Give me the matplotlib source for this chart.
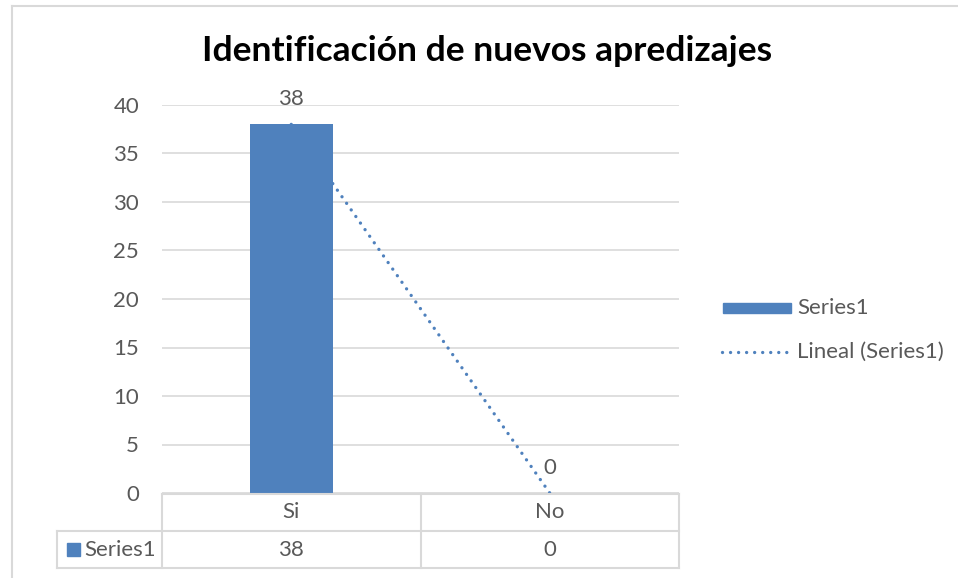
import matplotlib
matplotlib.use("Agg")
import matplotlib.pyplot as plt
import matplotlib.transforms as mtrans
import numpy as np
from matplotlib.patches import Rectangle
from matplotlib.lines import Line2D

categories = ["Si", "No"]
values = [38, 0]
series_name = "Series1"
trend_name = "Lineal (Series1)"
title = "Identificación de nuevos apredizajes"
yticks = [0, 5, 10, 15, 20, 25, 30, 35, 40]

plt.rcParams['font.family'] = ['Lato', 'DejaVu Sans']
W, H = 958, 578
fig = plt.figure(figsize=(W / 100, H / 100), dpi=100)
fig.patch.set_facecolor('white')

def fx(px):
    return px / W

def fy(py):
    return 1 - py / H

BLUE = '#4f81bd'
GRID = '#d9d9d9'
TXT = '#595959'
FS = 16
DOT = (0, (0.01, 2.4))

L, R, T, B = 162, 679, 105, 493
ax = fig.add_axes([fx(L), fy(B), fx(R) - fx(L), fy(T) - fy(B)])
x = np.arange(len(categories))
ax.set_xlim(-0.5, len(categories) - 0.5)
ax.set_ylim(0, 40)
ax.set_yticks(yticks)
ax.set_xticks([])
for s in ax.spines.values():
    s.set_visible(False)
ax.yaxis.grid(True, color=GRID, lw=1.2)
ax.set_axisbelow(True)
ax.tick_params(axis='y', length=0, pad=16.5, labelsize=FS, labelcolor=TXT)

# trendline (linear fit)
coef = np.polyfit(x, values, 1)
tx = np.array([x[0], x[-1]])
ax.plot(tx, np.polyval(coef, tx), linestyle=DOT, color=BLUE, lw=2.4,
        zorder=1, dash_capstyle='round')
ax.bar(x, values, width=0.32, color=BLUE, zorder=2)
for xi, v in zip(x, values):
    ax.annotate(str(v), (xi, v), xytext=(0, 18), textcoords='offset points',
                ha='center', va='center', fontsize=FS, color=TXT)

fig.text(0.5 * (fx(202) + fx(772)), fy(51), title, ha='center', va='center',
         fontsize=25.5, fontweight='bold', color='#000000')

# chart border
fig.add_artist(Line2D([fx(12), fx(12)], [fy(6), fy(578)], color=GRID, lw=1.5))
fig.add_artist(Line2D([fx(12), fx(958)], [fy(6), fy(6)], color=GRID, lw=1.5))

# data table
TL = 57
cols = [L, 421, R]
y0, y1, y2 = 494, 531, 568
def hline(xa, xb, yy):
    fig.add_artist(Line2D([fx(xa), fx(xb)], [fy(yy), fy(yy)], color=GRID, lw=1.5))
def vline(xx, ya, yb):
    fig.add_artist(Line2D([fx(xx), fx(xx)], [fy(ya), fy(yb)], color=GRID, lw=1.5))
hline(L, R, y0)
hline(TL, R, y1)
hline(TL, R, y2)
for c in cols:
    vline(c, y0, y2)
vline(TL, y1, y2)
blend = mtrans.blended_transform_factory(ax.transData, fig.transFigure)
for xi, c, v in zip(x, categories, values):
    ax.text(xi, fy((y0 + y1) / 2), c, transform=blend, ha='center', va='center',
            fontsize=FS, color=TXT)
    ax.text(xi, fy((y1 + y2) / 2), str(v), transform=blend, ha='center', va='center',
            fontsize=FS, color=TXT)
fig.add_artist(Rectangle((fx(67), fy(556)), fx(80) - fx(67), fy(543) - fy(556),
                         color=BLUE, transform=fig.transFigure))
fig.text(fx(84), fy((y1 + y2) / 2), series_name, ha='left', va='center',
         fontsize=FS, color=TXT)

# legend
fig.add_artist(Rectangle((fx(723), fy(313)), fx(791) - fx(723), fy(303) - fy(313),
                         color=BLUE, transform=fig.transFigure))
fig.text(fx(797), fy(308), series_name, ha='left', va='center', fontsize=FS, color=TXT)
fig.add_artist(Line2D([fx(722), fx(791)], [fy(352), fy(352)], color=BLUE, lw=2.4,
                      linestyle=DOT, dash_capstyle='round'))
fig.text(fx(797), fy(352), trend_name, ha='left', va='center', fontsize=FS, color=TXT)

fig.savefig("out.png", dpi=100, facecolor='white')
